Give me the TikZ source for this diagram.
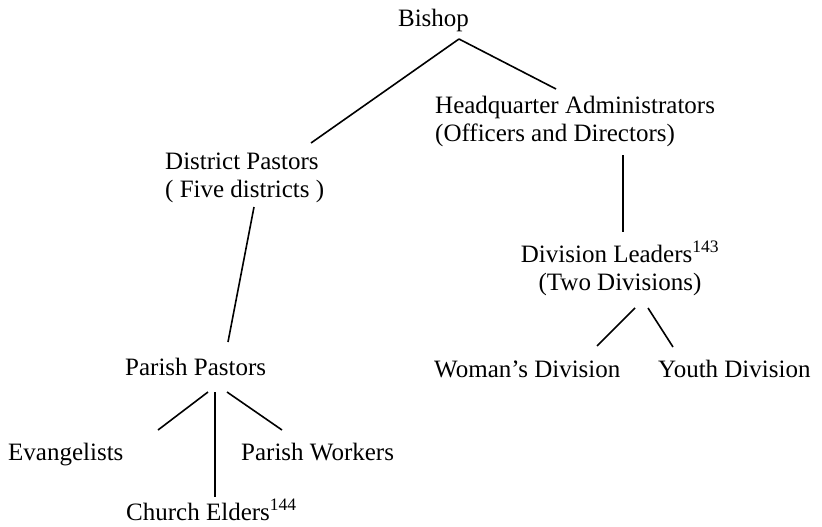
\documentclass[tikz,border=0pt]{standalone}
\usepackage{fontspec}
\setmainfont{Liberation Serif}
\usepackage{tikz}
\usetikzlibrary{calc}
\tikzset{
  org-label/.style={inner sep=0pt, font=\fontsize{25}{28}\selectfont, text=black},
  org-block/.style={org-label, align=left, anchor=base west},
  org-link/.style={draw=black, line width=1.6pt}
}

\begin{document}
\begin{tikzpicture}[x=1pt, y=-1pt]
  \useasboundingbox (0,0) rectangle (822,527);

  % Top and second level
  \node[org-label, anchor=base] (bishop) at (433.5,27) {Bishop};
  \node[org-block] (district) at (165,197) {District Pastors\\( Five districts )};
  \node[org-block] (hq) at (435,141) {Headquarter Administrators\\(Officers and Directors)};

  % Headquarter branch
  \node[org-label, align=center, anchor=base] (divlead) at (620,290)
    {Division Leaders\textsuperscript{143}\\(Two Divisions)};
  \node[org-label, anchor=base west] (woman) at (434,377) {Woman's Division};
  \node[org-label, anchor=base west] (youth) at (658,377) {Youth Division};

  % District branch
  \node[org-label, anchor=base west] (parish) at (125,375) {Parish Pastors};
  \node[org-label, anchor=base west] (evang) at (8,460) {Evangelists};
  \node[org-label, anchor=base west] (workers) at (241,460) {Parish Workers};
  \node[org-label, anchor=base west] (elders) at (126,520) {Church Elders\textsuperscript{144}};

  \draw[org-link] ($(bishop.base)+(25.5,12)$) -- ($(district.base west)+(146,-54)$);
  \draw[org-link] ($(bishop.base)+(25.5,12)$) -- ($(hq.base west)+(121,-52)$);
  \draw[org-link] ($(district.base west)+(89,10)$) -- ($(parish.base west)+(103,-33)$);
  \draw[org-link] ($(hq.base west)+(188,14)$) -- ($(divlead.base)+(3,-58)$);
  \draw[org-link] ($(divlead.base)+(15,18)$) -- ($(woman.base west)+(163,-31)$);
  \draw[org-link] ($(divlead.base)+(28,18)$) -- ($(youth.base west)+(15,-30)$);
  \draw[org-link] ($(parish.base west)+(83,17)$) -- ($(evang.base west)+(150,-30)$);
  \draw[org-link] ($(parish.base west)+(90,17)$) -- ($(elders.base west)+(89,-23)$);
  \draw[org-link] ($(parish.base west)+(102,17)$) -- ($(workers.base west)+(41,-30)$);
\end{tikzpicture}
\end{document}
